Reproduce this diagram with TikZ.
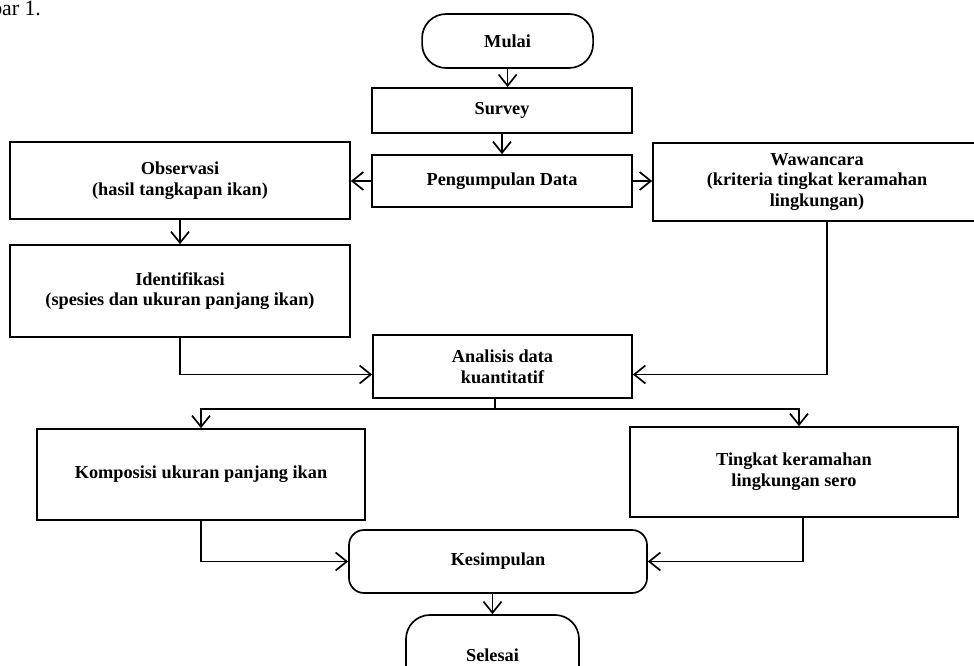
\documentclass[tikz,border=0pt]{standalone}
\usepackage{fontspec}
\setmainfont{Liberation Serif}
\usetikzlibrary{arrows.meta}

\begin{document}
\begin{tikzpicture}[
		kotak/.style={draw, line width=1.2pt, align=center, inner sep=0pt, font=\bfseries\fontsize{13}{14.8}\selectfont},
		ujung/.style={kotak, rounded corners=0.6cm},
		bulat/.style={kotak, rounded corners=0.375cm},
		panah/.style={line width=1.2pt, -{Straight Barb[length=2.8mm,width=4.5mm]}},
		garis/.style={line width=1.2pt}
	]
			%%%%% START %%%%%
			\useasboundingbox (0, 0) rectangle (24.35, 16.65);
			\node[anchor=base east, inner sep=0pt, font=\fontsize{15.5}{17}\selectfont] (judul) at (1.03, 16.26) {Gambar 1.};
			
			\node[ujung, minimum width=4.275cm, minimum height=1.35cm] (mulai) at (12.69, 15.625) {Mulai};
			\node[kotak, minimum width=6.5cm, minimum height=1.125cm] (survey) at (12.55, 13.89) {Survey};
			\node[kotak, minimum width=6.5cm, minimum height=1.3cm] (data) at (12.55, 12.125) {Pengumpulan Data};
			
			\node[kotak, minimum width=8.5cm, minimum height=1.925cm] (observasi) at (4.5, 12.1375) {Observasi\\(hasil tangkapan ikan)};
			\node[kotak, minimum width=8.5cm, minimum height=2.3cm] (identifikasi) at (4.5, 9.375) {Identifikasi\\(spesies dan ukuran panjang ikan)};
			\node[kotak, minimum width=8.2cm, minimum height=1.95cm] (wawancara) at (20.425, 12.1) {Wawancara\\(kriteria tingkat keramahan\\lingkungan)};
			
			\node[kotak, minimum width=6.475cm, minimum height=1.575cm] (analisis) at (12.5625, 7.4875) {Analisis data\\kuantitatif};
			
			\node[kotak, minimum width=8.2cm, minimum height=2.275cm] (komposisi) at (5.025, 4.7875) {Komposisi ukuran panjang ikan};
			\node[kotak, minimum width=8.2cm, minimum height=2.25cm] (tingkat) at (19.85, 4.85) {Tingkat keramahan\\lingkungan sero};
			
			\node[bulat, minimum width=7.45cm, minimum height=1.575cm] (kesimpulan) at (12.45, 2.6125) {Kesimpulan};
			\node[ujung, minimum width=4.325cm, minimum height=2.0cm] (selesai) at (12.3125, 0.275) {Selesai};
			
			% alur utama
			\draw[panah] (mulai.south) -- (mulai.south |- survey.north);
			\draw[panah] (survey.south) -- (data.north);
			\draw[panah] (data.west) -- (data.west -| observasi.east);
			\draw[panah] (data.east) -- (data.east -| wawancara.west);
			\draw[panah] (observasi.south) -- (identifikasi.north);
			\draw[panah] (identifikasi.south) |- ([yshift=-0.2cm]analisis.west);
			\draw[panah] ([xshift=0.25cm]wawancara.south) |- ([yshift=-0.2cm]analisis.east);
			
			% cabang ke hasil
			\coordinate (cabang) at (12.375, 6.425);
			\draw[garis] (analisis.south -| cabang) -- (cabang);
			\draw[panah] (cabang) -| (komposisi.north);
			\draw[panah] (cabang) -| ([xshift=0.125cm]tingkat.north);
			
			\draw[panah] (komposisi.south) |- (kesimpulan.west);
			\draw[panah] ([xshift=0.225cm]tingkat.south) |- (kesimpulan.east);
			\draw[panah] (kesimpulan.south -| selesai.north) -- (selesai.north);
			%%%%% END %%%%%
\end{tikzpicture}
\end{document}
